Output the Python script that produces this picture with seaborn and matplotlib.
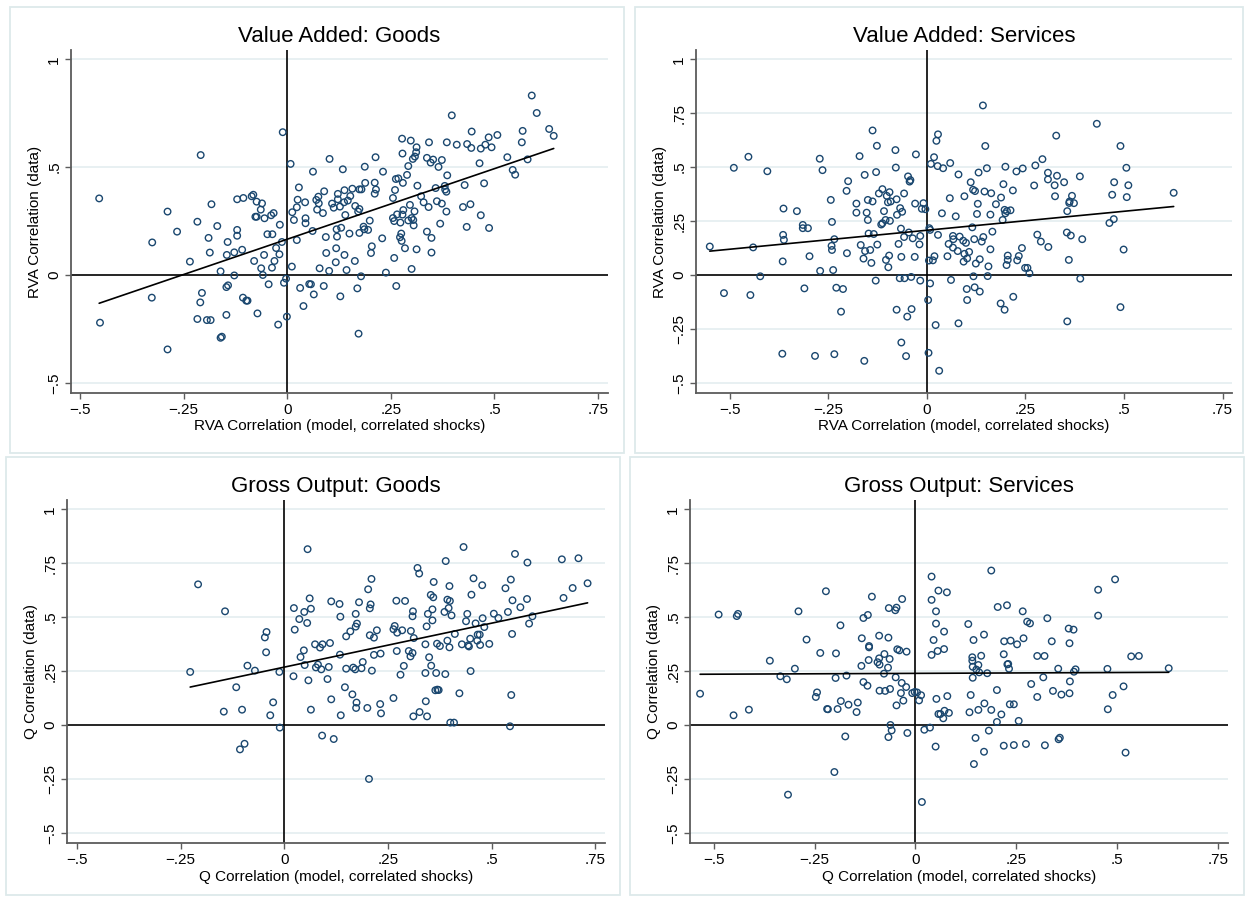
import matplotlib
matplotlib.use('Agg')
import matplotlib.pyplot as plt
import seaborn as sns
from matplotlib.patches import Rectangle
from matplotlib.ticker import FuncFormatter, FixedLocator

# ---- data ----
va_goods_model = [
    -0.454, -0.452, -0.326, -0.327, -0.289, -0.289, -0.266, -0.235, -0.217, -0.209,
    -0.217, -0.210, -0.206, -0.194, -0.185, -0.190, -0.187, -0.183, -0.169, -0.161,
    -0.161, -0.158, -0.146, -0.144, -0.147, -0.143, -0.147, -0.128, -0.128, -0.121,
    -0.121, -0.121, -0.109, -0.107, -0.106, -0.099, -0.096, -0.086, -0.082, -0.080,
    -0.077, -0.074, -0.072, -0.074, -0.064, -0.061, -0.063, -0.059, -0.056, -0.055,
    -0.048, -0.045, -0.039, -0.036, -0.037, -0.033, -0.031, -0.027, -0.022, -0.019,
    -0.018, -0.013, -0.011, -0.008, -0.003, -0.001, 0.008, 0.011, 0.012, 0.016,
    0.023, 0.023, 0.025, 0.028, 0.031, 0.039, 0.043, 0.044, 0.044, 0.053,
    0.057, 0.061, 0.062, 0.064, 0.070, 0.072, 0.075, 0.076, 0.078, 0.086,
    0.088, 0.089, 0.093, 0.094, 0.101, 0.102, 0.108, 0.112, 0.118, 0.117,
    0.119, 0.120, 0.122, 0.122, 0.127, 0.128, 0.130, 0.134, 0.137, 0.138,
    0.138, 0.140, 0.143, 0.146, 0.150, 0.152, 0.157, 0.163, 0.164, 0.169,
    0.171, 0.172, 0.174, 0.174, 0.174, 0.179, 0.178, 0.184, 0.186, 0.187,
    0.188, 0.195, 0.199, 0.202, 0.204, 0.211, 0.211, 0.214, 0.213, 0.229,
    0.231, 0.238, 0.255, 0.255, 0.258, 0.258, 0.260, 0.262, 0.263, 0.265,
    0.268, 0.272, 0.273, 0.275, 0.276, 0.277, 0.278, 0.278, 0.280, 0.279,
    0.284, 0.289, 0.292, 0.292, 0.296, 0.298, 0.300, 0.300, 0.303, 0.304,
    0.305, 0.307, 0.308, 0.311, 0.312, 0.312, 0.314, 0.323, 0.329, 0.337,
    0.337, 0.341, 0.342, 0.346, 0.348, 0.348, 0.352, 0.358, 0.361, 0.365,
    0.369, 0.373, 0.373, 0.381, 0.380, 0.384, 0.385, 0.386, 0.384, 0.397,
    0.409, 0.424, 0.428, 0.434, 0.433, 0.442, 0.445, 0.444, 0.464, 0.467,
    0.467, 0.475, 0.478, 0.486, 0.487, 0.493, 0.507, 0.531, 0.544, 0.550,
    0.566, 0.568, 0.580, 0.590, 0.602, 0.632, 0.643]
va_goods_data = [
    0.355, -0.221, 0.151, -0.105, 0.294, -0.345, 0.201, 0.062, 0.247, 0.556,
    -0.204, -0.127, -0.083, -0.209, -0.209, 0.172, 0.104, 0.328, 0.227, 0.017,
    -0.291, -0.286, 0.093, 0.153, -0.056, -0.048, -0.185, 0.105, -0.002, 0.182,
    0.209, 0.351, 0.117, -0.105, 0.357, -0.119, -0.119, 0.365, 0.372, 0.065,
    0.270, 0.270, -0.178, 0.340, 0.303, 0.332, 0.031, 0.000, 0.093, 0.263,
    0.189, -0.043, 0.277, 0.189, 0.034, 0.287, 0.065, 0.125, -0.230, 0.096,
    0.233, 0.153, 0.662, -0.036, -0.017, -0.193, 0.515, 0.039, 0.291, 0.255,
    0.314, 0.162, 0.349, 0.406, -0.060, -0.144, 0.337, 0.240, 0.263, -0.042,
    -0.043, 0.204, 0.479, -0.090, 0.348, 0.303, 0.363, 0.332, 0.031, 0.287,
    -0.051, 0.388, 0.176, 0.102, 0.019, 0.538, 0.331, 0.312, 0.124, 0.059,
    0.212, 0.178, 0.351, 0.376, 0.317, -0.099, 0.219, 0.490, 0.337, 0.393,
    0.093, 0.278, 0.023, 0.345, 0.192, 0.366, 0.400, 0.065, 0.320, -0.062,
    0.294, -0.272, 0.306, 0.195, 0.397, 0.397, -0.006, 0.224, 0.212, 0.502,
    0.427, 0.209, 0.252, 0.102, 0.133, 0.428, 0.377, 0.396, 0.546, 0.170,
    0.479, 0.011, 0.357, 0.264, 0.250, 0.079, 0.394, 0.445, -0.051, 0.281,
    0.448, 0.175, 0.243, 0.192, 0.158, 0.632, 0.563, 0.280, 0.301, 0.427,
    0.124, 0.464, 0.505, 0.253, 0.325, 0.623, 0.028, 0.264, 0.538, 0.255,
    0.230, 0.295, 0.549, 0.569, 0.592, 0.119, 0.414, 0.365, 0.337, 0.543,
    0.201, 0.315, 0.615, 0.521, 0.172, 0.104, 0.535, 0.403, 0.342, 0.501,
    0.238, 0.533, 0.331, 0.396, 0.413, 0.386, 0.615, 0.462, 0.294, 0.740,
    0.604, 0.315, 0.417, 0.607, 0.223, 0.328, 0.665, 0.589, 0.518, 0.586,
    0.277, 0.425, 0.604, 0.638, 0.218, 0.592, 0.649, 0.546, 0.487, 0.465,
    0.615, 0.668, 0.536, 0.832, 0.751, 0.677, 0.645]

va_serv_model = [
    -0.551, -0.515, -0.490, -0.453, -0.448, -0.441, -0.423, -0.405, -0.367, -0.366,
    -0.365, -0.363, -0.364, -0.330, -0.315, -0.315, -0.311, -0.302, -0.298, -0.284,
    -0.272, -0.271, -0.265, -0.244, -0.242, -0.241, -0.241, -0.238, -0.235, -0.235,
    -0.230, -0.218, -0.213, -0.204, -0.203, -0.200, -0.179, -0.179, -0.171, -0.168,
    -0.161, -0.159, -0.158, -0.157, -0.153, -0.150, -0.150, -0.148, -0.144, -0.141,
    -0.138, -0.138, -0.135, -0.130, -0.129, -0.127, -0.126, -0.122, -0.116, -0.113,
    -0.113, -0.109, -0.105, -0.104, -0.102, -0.099, -0.098, -0.096, -0.095, -0.094,
    -0.092, -0.080, -0.079, -0.077, -0.077, -0.076, -0.072, -0.069, -0.068, -0.066,
    -0.065, -0.065, -0.063, -0.058, -0.058, -0.057, -0.053, -0.050, -0.048, -0.046,
    -0.044, -0.042, -0.040, -0.039, -0.036, -0.031, -0.030, -0.028, -0.019, -0.017,
    -0.017, -0.013, -0.009, -0.004, 0.003, 0.004, 0.006, 0.008, 0.008, 0.005,
    0.010, 0.015, 0.018, 0.019, 0.022, 0.024, 0.027, 0.028, 0.028, 0.031,
    0.038, 0.041, 0.052, 0.055, 0.058, 0.059, 0.061, 0.066, 0.066, 0.067,
    0.073, 0.078, 0.080, 0.080, 0.083, 0.092, 0.095, 0.095, 0.093, 0.099,
    0.101, 0.102, 0.102, 0.107, 0.111, 0.115, 0.117, 0.118, 0.120, 0.122,
    0.121, 0.124, 0.127, 0.129, 0.131, 0.134, 0.134, 0.139, 0.142, 0.143,
    0.146, 0.148, 0.152, 0.154, 0.156, 0.161, 0.161, 0.163, 0.166, 0.175,
    0.187, 0.188, 0.192, 0.194, 0.197, 0.197, 0.199, 0.199, 0.202, 0.205,
    0.205, 0.203, 0.212, 0.218, 0.219, 0.227, 0.229, 0.233, 0.241, 0.243,
    0.249, 0.255, 0.260, 0.272, 0.275, 0.280, 0.289, 0.293, 0.307, 0.307,
    0.308, 0.324, 0.325, 0.328, 0.330, 0.348, 0.355, 0.356, 0.356, 0.360,
    0.361, 0.362, 0.365, 0.368, 0.373, 0.388, 0.389, 0.394, 0.431, 0.463,
    0.470, 0.474, 0.475, 0.491, 0.491, 0.499, 0.506, 0.507, 0.511, 0.626]
va_serv_data = [
    0.132, -0.084, 0.497, 0.548, -0.093, 0.128, -0.006, 0.481, -0.365, 0.063,
    0.186, 0.163, 0.308, 0.296, 0.232, 0.217, -0.062, 0.217, 0.087, -0.375,
    0.539, 0.019, 0.486, 0.348, 0.135, 0.246, 0.116, 0.023, 0.166, -0.367,
    -0.059, -0.170, -0.065, 0.390, 0.101, 0.435, 0.331, 0.289, 0.551, 0.139,
    0.076, -0.398, 0.464, 0.111, 0.289, 0.255, 0.348, 0.192, 0.116, 0.056,
    0.341, 0.670, 0.190, -0.026, 0.477, 0.599, 0.141, 0.378, 0.234, 0.398,
    0.240, 0.296, 0.255, 0.070, 0.367, 0.337, 0.036, 0.090, 0.384, 0.251,
    0.341, 0.579, 0.498, -0.161, 0.351, 0.279, 0.144, -0.015, 0.310, 0.215,
    0.084, -0.313, 0.293, 0.176, 0.378, -0.015, -0.376, -0.193, 0.457, 0.197,
    0.433, 0.440, -0.009, -0.158, 0.170, 0.084, 0.331, 0.559, 0.142, 0.181,
    -0.026, 0.307, 0.333, 0.305, -0.116, -0.361, 0.217, 0.209, -0.039, 0.067,
    0.515, 0.068, 0.546, 0.087, -0.232, 0.622, 0.505, 0.652, 0.186, -0.444,
    0.286, 0.495, 0.087, 0.144, 0.356, 0.519, -0.023, 0.181, 0.127, 0.166,
    0.272, 0.111, 0.466, -0.224, 0.178, 0.159, 0.365, 0.098, 0.062, 0.149,
    -0.065, -0.116, 0.077, 0.107, 0.430, 0.221, 0.395, -0.006, 0.166, 0.389,
    -0.057, 0.053, 0.283, 0.330, 0.475, -0.077, 0.073, 0.155, 0.786, 0.176,
    0.387, 0.598, 0.495, -0.005, 0.040, 0.280, 0.119, 0.379, 0.201, 0.328,
    -0.132, 0.359, 0.255, 0.421, 0.302, -0.161, 0.286, 0.502, 0.046, 0.070,
    0.090, 0.296, 0.300, 0.392, -0.101, 0.480, 0.068, 0.088, 0.125, 0.494,
    0.033, 0.033, 0.008, 0.415, 0.508, 0.187, 0.155, 0.537, 0.474, 0.443,
    0.130, 0.416, 0.365, 0.646, 0.460, 0.430, 0.197, -0.215, 0.296, 0.070,
    0.334, 0.341, 0.183, 0.367, 0.333, 0.457, -0.017, 0.166, 0.701, 0.241,
    0.372, 0.259, 0.430, 0.598, -0.149, 0.118, 0.497, 0.361, 0.416, 0.381]

go_goods_model = [
    -0.227, -0.208, -0.146, -0.143, -0.116, -0.107, -0.096, -0.102, -0.089, -0.071,
    -0.047, -0.043, -0.044, -0.034, -0.027, -0.012, -0.011, 0.022, 0.023, 0.025,
    0.036, 0.039, 0.047, 0.048, 0.049, 0.055, 0.056, 0.058, 0.061, 0.064,
    0.064, 0.074, 0.076, 0.081, 0.086, 0.089, 0.091, 0.092, 0.104, 0.107,
    0.110, 0.113, 0.113, 0.119, 0.133, 0.134, 0.135, 0.136, 0.146, 0.149,
    0.149, 0.159, 0.164, 0.166, 0.171, 0.172, 0.172, 0.173, 0.174, 0.175,
    0.180, 0.186, 0.189, 0.200, 0.202, 0.204, 0.206, 0.206, 0.208, 0.210,
    0.211, 0.216, 0.216, 0.223, 0.231, 0.232, 0.233, 0.263, 0.263, 0.266,
    0.270, 0.271, 0.272, 0.280, 0.284, 0.288, 0.291, 0.300, 0.304, 0.305,
    0.309, 0.309, 0.310, 0.311, 0.312, 0.321, 0.325, 0.326, 0.340, 0.340,
    0.341, 0.343, 0.344, 0.346, 0.349, 0.353, 0.354, 0.357, 0.357, 0.359,
    0.360, 0.364, 0.366, 0.368, 0.369, 0.372, 0.375, 0.386, 0.388, 0.389,
    0.393, 0.393, 0.396, 0.398, 0.398, 0.399, 0.400, 0.403, 0.409, 0.411,
    0.422, 0.428, 0.432, 0.438, 0.441, 0.443, 0.445, 0.448, 0.449, 0.451,
    0.456, 0.461, 0.465, 0.466, 0.471, 0.472, 0.477, 0.478, 0.482, 0.494,
    0.505, 0.516, 0.533, 0.539, 0.544, 0.546, 0.547, 0.549, 0.550, 0.556,
    0.569, 0.585, 0.586, 0.590, 0.598, 0.669, 0.673, 0.695, 0.709, 0.731]
go_goods_data = [
    0.246, 0.652, 0.062, 0.527, 0.175, -0.113, -0.087, 0.071, 0.275, 0.252,
    0.406, 0.431, 0.337, 0.045, 0.105, 0.246, -0.012, 0.226, 0.542, 0.442,
    0.491, 0.315, 0.346, 0.524, 0.278, 0.473, 0.815, 0.207, 0.587, 0.539,
    0.071, 0.374, 0.267, 0.280, 0.359, 0.258, -0.049, 0.374, 0.213, 0.269,
    0.380, 0.573, 0.119, -0.065, 0.561, 0.326, 0.502, 0.045, 0.175, 0.261,
    0.411, 0.434, 0.142, 0.266, 0.258, 0.515, 0.456, 0.079, 0.104, 0.470,
    0.569, 0.263, 0.292, 0.079, 0.629, -0.250, 0.416, 0.541, 0.559, 0.677,
    0.252, 0.325, 0.405, 0.439, 0.097, 0.331, 0.054, 0.444, 0.125, 0.459,
    0.576, 0.343, 0.428, 0.233, 0.439, 0.274, 0.575, 0.343, 0.318, 0.436,
    0.334, 0.504, 0.527, 0.040, 0.403, 0.728, 0.702, 0.060, 0.241, 0.374,
    0.110, 0.457, 0.040, 0.515, 0.314, 0.603, 0.275, 0.485, 0.536, 0.592,
    0.663, 0.161, 0.241, 0.377, 0.164, 0.162, 0.366, 0.524, 0.236, 0.760,
    0.391, 0.581, 0.542, 0.360, 0.644, 0.575, 0.011, 0.508, 0.011, 0.422,
    0.147, 0.374, 0.825, 0.481, 0.515, 0.369, 0.364, 0.400, 0.250, 0.604,
    0.680, 0.471, 0.391, 0.419, 0.419, 0.371, 0.648, 0.495, 0.454, 0.376,
    0.516, 0.496, 0.634, 0.524, -0.006, 0.674, 0.139, 0.422, 0.578, 0.793,
    0.546, 0.584, 0.753, 0.470, 0.504, 0.768, 0.589, 0.635, 0.773, 0.657]

go_serv_model = [
    -0.534, -0.488, -0.451, -0.443, -0.440, -0.413, -0.361, -0.335, -0.319, -0.316,
    -0.299, -0.290, -0.270, -0.247, -0.244, -0.236, -0.222, -0.219, -0.217, -0.201,
    -0.198, -0.197, -0.193, -0.186, -0.185, -0.174, -0.171, -0.166, -0.146, -0.143,
    -0.134, -0.133, -0.129, -0.129, -0.119, -0.118, -0.116, -0.115, -0.115, -0.108,
    -0.094, -0.090, -0.090, -0.089, -0.089, -0.078, -0.077, -0.075, -0.068, -0.067,
    -0.067, -0.066, -0.064, -0.063, -0.062, -0.059, -0.050, -0.049, -0.047, -0.047,
    -0.045, -0.040, -0.036, -0.034, -0.033, -0.030, -0.023, -0.022, -0.020, -0.008,
    -0.002, 0.004, 0.009, 0.014, 0.016, 0.022, 0.036, 0.040, 0.040, 0.040,
    0.045, 0.050, 0.051, 0.051, 0.052, 0.055, 0.057, 0.057, 0.062, 0.069,
    0.071, 0.071, 0.072, 0.078, 0.079, 0.083, 0.131, 0.134, 0.137, 0.141,
    0.141, 0.142, 0.142, 0.144, 0.145, 0.149, 0.151, 0.156, 0.156, 0.158,
    0.163, 0.170, 0.170, 0.171, 0.178, 0.182, 0.188, 0.188, 0.202, 0.202,
    0.204, 0.213, 0.219, 0.219, 0.220, 0.227, 0.228, 0.230, 0.232, 0.234,
    0.236, 0.244, 0.244, 0.252, 0.256, 0.266, 0.268, 0.274, 0.277, 0.284,
    0.287, 0.302, 0.302, 0.317, 0.320, 0.321, 0.327, 0.338, 0.341, 0.354,
    0.355, 0.358, 0.362, 0.380, 0.382, 0.382, 0.383, 0.392, 0.393, 0.397,
    0.453, 0.453, 0.476, 0.477, 0.489, 0.495, 0.516, 0.521, 0.535, 0.554, 0.628]
go_serv_data = [
    0.145, 0.512, 0.045, 0.505, 0.515, 0.071, 0.298, 0.226, 0.212, -0.323,
    0.261, 0.527, 0.396, 0.130, 0.151, 0.334, 0.620, 0.074, 0.073, -0.218,
    0.218, 0.332, 0.074, 0.462, 0.111, -0.053, 0.229, 0.094, 0.060, 0.104,
    0.274, 0.402, 0.496, 0.199, 0.182, 0.510, 0.301, 0.366, 0.360, 0.595,
    0.291, 0.414, 0.309, 0.280, 0.159, 0.238, 0.329, 0.158, 0.266, 0.405,
    -0.056, 0.542, 0.306, 0.167, 0.000, -0.025, 0.532, 0.221, 0.544, 0.091,
    0.351, 0.346, 0.148, 0.195, 0.584, 0.113, 0.176, 0.340, -0.037, 0.148,
    0.153, 0.151, 0.114, 0.138, -0.357, -0.022, -0.012, 0.580, 0.688, 0.325,
    0.394, -0.100, 0.527, 0.470, 0.121, 0.343, 0.623, 0.051, 0.051, 0.031,
    0.352, 0.433, 0.066, 0.615, 0.134, 0.056, 0.468, 0.059, 0.139, 0.314,
    0.298, 0.270, 0.219, 0.394, -0.181, -0.060, 0.257, 0.278, 0.070, 0.244,
    0.321, 0.419, -0.124, 0.100, 0.240, -0.026, 0.070, 0.716, 0.162, 0.014,
    0.547, 0.049, 0.328, -0.096, 0.388, 0.555, 0.281, 0.283, 0.261, 0.096,
    0.391, 0.096, -0.093, 0.374, 0.019, 0.527, 0.402, -0.088, 0.479, 0.471,
    0.190, 0.320, 0.130, 0.221, 0.320, -0.094, 0.495, 0.388, 0.158, 0.261,
    -0.066, -0.059, 0.141, 0.447, 0.379, 0.147, 0.202, 0.442, 0.247, 0.258,
    0.627, 0.507, 0.260, 0.073, 0.139, 0.675, 0.179, -0.128, 0.318, 0.320, 0.263]

titles = ['Value Added: Goods', 'Value Added: Services',
          'Gross Output: Goods', 'Gross Output: Services']
x_labels = ['RVA Correlation (model, correlated shocks)'] * 2 + \
           ['Q Correlation (model, correlated shocks)'] * 2
y_labels = ['RVA Correlation (data)'] * 2 + ['Q Correlation (data)'] * 2
x_ticks = [-0.5, -0.25, 0, 0.25, 0.5, 0.75]
y_ticks_va_goods = [-0.5, 0, 0.5, 1]
y_ticks_other = [-0.5, -0.25, 0, 0.25, 0.5, 0.75, 1]

# ---- style ----
sns.set_style('ticks')
plt.rcParams['font.family'] = ['Liberation Sans', 'DejaVu Sans']
plt.rcParams['text.color'] = 'black'
plt.rcParams['axes.labelcolor'] = 'black'
plt.rcParams['xtick.labelcolor'] = 'black'
plt.rcParams['ytick.labelcolor'] = 'black'

NAVY = '#1a476f'
GRID = '#e6eff1'
FRAME = '#dde9eb'
SPINE = '#5c5c5c'

W, H = 1249, 899
fig = plt.figure(figsize=(W / 100, H / 100), dpi=100)
fig.patch.set_facecolor('white')


def stata_tick(v, pos):
    if abs(v) < 1e-9:
        return '0'
    s = '%g' % round(v, 2)
    s = s.replace('0.', '.')
    return s.replace('-', '\u2212')


def px_axes(left, top, right, bottom):
    return fig.add_axes([left / W, 1 - bottom / H, (right - left) / W, (bottom - top) / H])


def px_frame(left, top, right, bottom):
    fig.patches.append(Rectangle((left / W, 1 - bottom / H), (right - left) / W,
                                 (bottom - top) / H, transform=fig.transFigure,
                                 fill=False, edgecolor=FRAME, lw=1.3, zorder=0))


# panel frames (pixels) and axes boxes (pixels), x limits
frames = [(10, 7, 624, 453), (635, 7, 1243, 453), (6, 457, 620, 895), (630, 457, 1244, 895)]
boxes = [(71, 50, 608, 393), (696, 50, 1232, 393), (67, 500, 605, 843), (690, 500, 1228, 843)]
xlims = [(-0.522, 0.774), (-0.586, 0.774), (-0.524, 0.773), (-0.559, 0.775)]
ylim = (-0.547, 1.043)

series = [(va_goods_model, va_goods_data), (va_serv_model, va_serv_data),
          (go_goods_model, go_goods_data), (go_serv_model, go_serv_data)]

for i, (xs, ys) in enumerate(series):
    px_frame(*frames[i])
    ax = px_axes(*boxes[i])
    yt = y_ticks_va_goods if i == 0 else y_ticks_other

    for t in yt:
        if t != 0:
            ax.axhline(t, color=GRID, lw=1.3, zorder=0)
    ax.axhline(0, color='black', lw=1.2, zorder=1)
    ax.axvline(0, color='black', lw=1.2, zorder=1)

    sns.scatterplot(x=xs, y=ys, ax=ax, marker='o', s=22, facecolor='none',
                    edgecolor=NAVY, linewidth=1.0, zorder=3)
    sns.regplot(x=xs, y=ys, ax=ax, scatter=False, ci=None, truncate=True,
                line_kws=dict(color='black', lw=1.2, zorder=4))

    ax.set_xlim(*xlims[i])
    ax.set_ylim(*ylim)
    ax.xaxis.set_major_locator(FixedLocator(x_ticks))
    ax.yaxis.set_major_locator(FixedLocator(yt))
    ax.xaxis.set_major_formatter(FuncFormatter(stata_tick))
    ax.yaxis.set_major_formatter(FuncFormatter(stata_tick))
    ax.tick_params(axis='both', direction='out', length=4, width=1.0,
                   color=SPINE, labelcolor='black', labelsize=11, pad=3)
    for lab in ax.get_yticklabels():
        lab.set_rotation(90)
        lab.set_va('center')

    sns.despine(ax=ax)
    for side in ['left', 'bottom']:
        ax.spines[side].set_color(SPINE)
        ax.spines[side].set_linewidth(1.3)

    ax.set_title(titles[i], fontsize=16, pad=6, color='black')
    ax.set_xlabel(x_labels[i], fontsize=11, labelpad=2, color='black')
    ax.set_ylabel(y_labels[i], fontsize=11, labelpad=4, color='black')

fig.savefig('out.png', dpi=100, facecolor='white')
